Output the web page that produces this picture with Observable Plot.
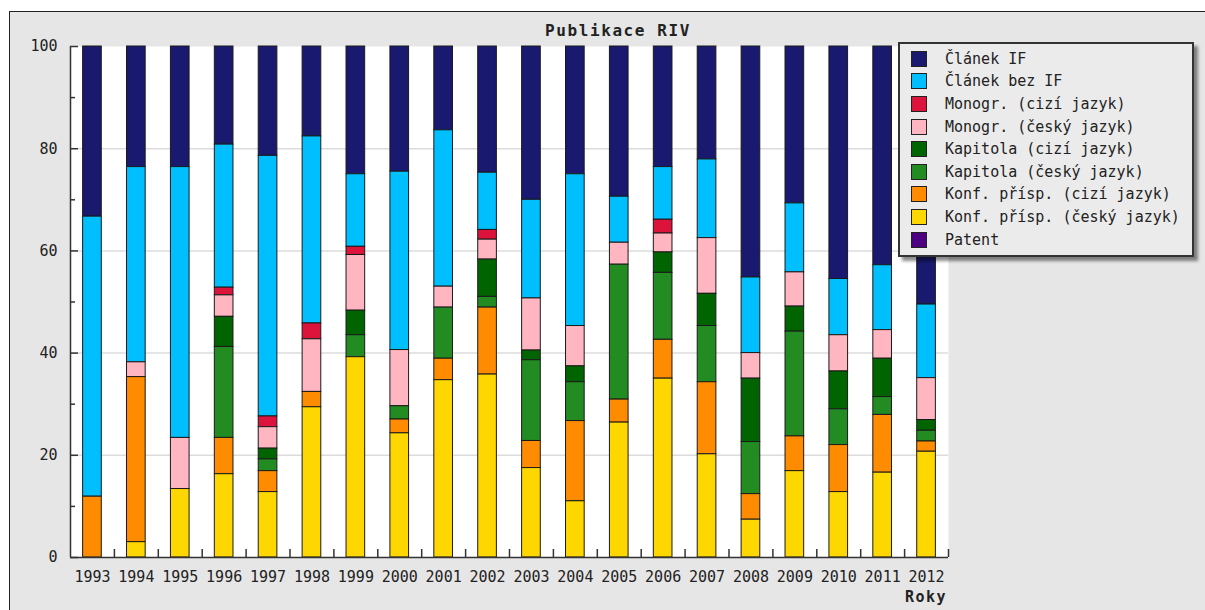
<!DOCTYPE html>
<html>
<head>
<meta charset="utf-8">
<script src="https://cdn.jsdelivr.net/npm/d3@7"></script>
<script src="https://cdn.jsdelivr.net/npm/@observablehq/plot@0.6"></script>
<style>
  html, body { margin: 0; padding: 0; background: #ffffff; }
  #page { position: relative; width: 1205px; height: 610px; overflow: hidden; font-family: "DejaVu Sans Mono", monospace; color: #222; }
  #frame { position: absolute; left: 9px; top: 11px; right: -2px; bottom: -2px; background: #e6e6e6; border-top: 1px solid #222; border-left: 1px solid #222; }
  #chart { position: absolute; left: 0; top: 0; }
  #title { position: absolute; left: 618px; top: 21px; transform: translateX(-50%); font-weight: bold; font-size: 16px; letter-spacing: 1.6px; line-height: 20px; white-space: nowrap; }
  #xlabel { position: absolute; right: 258px; top: 587px; font-weight: bold; font-size: 15px; letter-spacing: 1.5px; line-height: 20px; }
  #legend { position: absolute; left: 898px; top: 42px; width: 292px; height: 211px; background: #ebebeb; border: 2px solid #333; box-shadow: 4px 4px 3px rgba(0,0,0,0.45); }
  .row { position: absolute; left: 11px; height: 22.6px; display: flex; align-items: center; font-size: 15px; white-space: nowrap; }
  .sw { width: 14px; height: 14px; border: 1px solid #222; margin-right: 18px; }
</style>
</head>
<body>
<div id="page">
  <div id="frame"></div>
  <div id="chart"></div>
  <div id="title">Publikace RIV</div>
  <div id="xlabel">Roky</div>
  <div id="legend"></div>
</div>
<script>
const years = [1993, 1994, 1995, 1996, 1997, 1998, 1999, 2000, 2001, 2002, 2003, 2004, 2005, 2006, 2007, 2008, 2009, 2010, 2011, 2012];

const seriesNames = ["Článek IF", "Článek bez IF", "Monogr. (cizí jazyk)", "Monogr. (český jazyk)", "Kapitola (cizí jazyk)", "Kapitola (český jazyk)", "Konf. přísp. (cizí jazyk)", "Konf. přísp. (český jazyk)", "Patent"];
const seriesColors = ["#191970", "#00bfff", "#dc143c", "#ffb6c1", "#006400", "#228b22", "#ff8c00", "#ffd700", "#4b0082"];
// stacking order, bottom to top
const stackOrder = ["Konf. přísp. (český jazyk)", "Konf. přísp. (cizí jazyk)", "Kapitola (český jazyk)", "Kapitola (cizí jazyk)", "Monogr. (český jazyk)", "Monogr. (cizí jazyk)", "Článek bez IF", "Článek IF", "Patent"];

const clanekIF    = [33.3, 23.6, 23.6, 19.2, 21.4, 17.6, 25.0, 24.5, 16.4, 24.7, 30.0, 25.0, 29.4, 23.6, 22.1, 45.2, 30.7, 45.5, 42.8, 50.5];
const clanekBezIF = [54.8, 38.2, 53.0, 28.0, 51.0, 36.6, 14.2, 34.9, 30.6, 11.2, 19.3, 29.7, 9.0, 10.3, 15.4, 14.8, 13.5, 11.0, 12.7, 14.4];
const monoCizi    = [0, 0, 0, 1.5, 2.1, 3.1, 1.6, 0, 0, 1.9, 0, 0, 0, 2.7, 0, 0, 0, 0, 0, 0];
const monoCesky   = [0, 2.9, 10.0, 4.2, 4.2, 10.3, 10.9, 11.0, 4.1, 3.9, 10.2, 7.9, 4.3, 3.7, 10.9, 5.0, 6.7, 7.1, 5.6, 8.2];
const kapCizi     = [0, 0, 0, 5.9, 2.1, 0, 4.8, 0, 0, 7.3, 1.9, 3.1, 0, 4.0, 6.3, 12.4, 4.9, 7.4, 7.5, 2.1];
const kapCesky    = [0, 0, 0, 17.8, 2.3, 0, 4.3, 2.6, 10.0, 2.1, 15.8, 7.6, 26.4, 13.1, 11.0, 10.2, 20.5, 7.0, 3.5, 2.1];
const konfCizi    = [11.9, 32.3, 0, 7.1, 4.1, 3.0, 0, 2.7, 4.2, 13.1, 5.3, 15.7, 4.5, 7.6, 14.1, 5.0, 6.8, 9.2, 11.3, 2.0];
const konfCesky   = [0, 3.0, 13.4, 16.3, 12.8, 29.4, 39.2, 24.3, 34.7, 35.8, 17.5, 11.0, 26.4, 35.0, 20.2, 7.4, 16.9, 12.8, 16.6, 20.7];
const patent      = [0, 0, 0, 0, 0, 0, 0, 0, 0, 0, 0, 0, 0, 0, 0, 0, 0, 0, 0, 0];

const yTicks = [0, 20, 40, 60, 80, 100];
const yMinorTicks = [10, 30, 50, 70, 90];
const yGrid = [20, 40, 60, 80];

const seriesValues = [clanekIF, clanekBezIF, monoCizi, monoCesky, kapCizi, kapCesky, konfCizi, konfCesky, patent];
const table = [];
seriesNames.forEach((s, i) => {
  years.forEach((yr, j) => {
    const v = seriesValues[i][j];
    if (v > 0) table.push({year: yr, series: s, value: v});
  });
});

const W = 1205, H = 610, mL = 70, mR = 257, mT = 46, mB = 53;
const plotW = W - mL - mR, plotH = H - mT - mB, step = plotW / years.length;

const chart = Plot.plot({
  width: W, height: H,
  marginLeft: mL, marginRight: mR, marginTop: mT, marginBottom: mB,
  style: {background: "transparent", fontFamily: "'DejaVu Sans Mono', monospace", fontSize: "15px", color: "#222", overflow: "visible"},
  x: {type: "band", domain: years, round: false, paddingInner: 0.575, paddingOuter: 0.2875, tickSize: 0, tickPadding: 14, tickFormat: d => String(d), label: null},
  y: {domain: [0, 100], ticks: yTicks, tickSize: 0, tickPadding: 13, label: null},
  color: {domain: seriesNames, range: seriesColors},
  marks: [
    Plot.frame({fill: "white", stroke: null}),
    Plot.ruleY(yGrid, {stroke: "#dcdcdc", strokeWidth: 1.5}),
    Plot.barY(table, {x: "year", y: "value", fill: "series", stroke: "#1a1a1a", strokeWidth: 1, order: stackOrder}),
    Plot.ruleY([0], {stroke: "#333", strokeWidth: 1.5}),
    Plot.ruleX([years[0]], {dx: -step / 2, stroke: "#333", strokeWidth: 1.5}),
    Plot.tickX(years, {x: d => d, dx: step / 2, insetTop: plotH - 8, stroke: "#333", strokeWidth: 1.5}),
    Plot.tickY(yTicks, {y: d => d, insetRight: plotW - 8, stroke: "#333", strokeWidth: 1.5}),
    Plot.tickY(yMinorTicks, {y: d => d, insetRight: plotW - 5, stroke: "#333", strokeWidth: 1.5})
  ]
});
document.getElementById("chart").appendChild(chart);

const legend = document.getElementById("legend");
seriesNames.forEach((s, i) => {
  const row = document.createElement("div");
  row.className = "row";
  row.style.top = (3.5 + i * 22.6) + "px";
  const sw = document.createElement("div");
  sw.className = "sw";
  sw.style.background = seriesColors[i];
  const t = document.createElement("span");
  t.textContent = s;
  row.appendChild(sw);
  row.appendChild(t);
  legend.appendChild(row);
});
</script>
</body>
</html>
